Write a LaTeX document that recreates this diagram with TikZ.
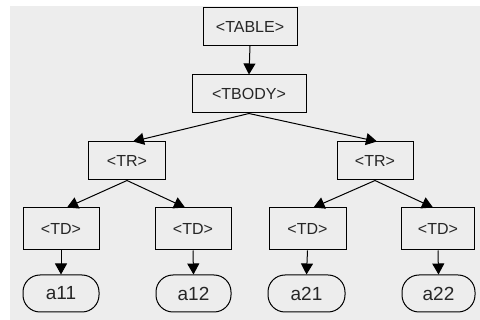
\documentclass[tikz,border=0pt]{standalone}
\usepackage{fontspec}
\setmainfont{Liberation Sans}
\usetikzlibrary{arrows.meta}
\begin{document}
\begin{tikzpicture}[x=1pt,y=-1pt,
  tag/.style={draw=black, line width=1pt, inner sep=0pt, minimum height=38pt,
    font=\fontsize{16}{19}\selectfont, text=black!85},
  leaf/.style={draw=black, line width=1pt, rounded corners=17pt, inner sep=0pt,
    minimum height=37pt, font=\fontsize{19}{22}\selectfont, text=black!85},
  link/.style={line width=1pt, -{Triangle[length=11pt,width=12pt]}}]
  \useasboundingbox (0,0) rectangle (480,320);
  \fill[black!7] (10,6) rectangle (480,320);

  % tree nodes
  \node[tag, minimum width=94pt] (table) at (250,26.5) {<TABLE>};
  \node[tag, minimum width=114pt] (tbody) at (249,94) {<TBODY>};
  \node[tag, minimum width=77pt] (trl) at (127,161) {<TR>};
  \node[tag, minimum width=76pt] (trr) at (375,161) {<TR>};
  \node[tag, minimum width=76pt, minimum height=42pt] (td1) at (61,229) {<TD>};
  \node[tag, minimum width=76pt, minimum height=42pt] (td2) at (193,229) {<TD>};
  \node[tag, minimum width=77pt, minimum height=42pt] (td3) at (307.5,229) {<TD>};
  \node[tag, minimum width=73pt, minimum height=42pt] (td4) at (438,229) {<TD>};
  \node[leaf, minimum width=76pt] (a11) at (61,293.5) {a11};
  \node[leaf, minimum width=75pt] (a12) at (193.5,293.5) {a12};
  \node[leaf, minimum width=77pt] (a21) at (306.5,293.5) {a21};
  \node[leaf, minimum width=73pt] (a22) at (438.5,293.5) {a22};

  % connectors
  \draw[link] (table.south) -- (tbody.north);
  \draw[link] (tbody.south) -- ([xshift=6pt]trl.north);
  \draw[link] (tbody.south) -- ([xshift=2pt]trr.north);
  \draw[link] (trl.south) -- ([xshift=6pt]td1.north);
  \draw[link] (trl.south) -- ([xshift=-8pt]td2.north);
  \draw[link] (trr.south) -- ([xshift=6pt]td3.north);
  \draw[link] (trr.south) -- ([xshift=-5pt]td4.north);
  \draw[link] (td1.south) -- (a11.north);
  \draw[link] (td2.south) -- (a12.north);
  \draw[link] (td3.south) -- (a21.north);
  \draw[link] (td4.south) -- (a22.north);
\end{tikzpicture}
\end{document}
